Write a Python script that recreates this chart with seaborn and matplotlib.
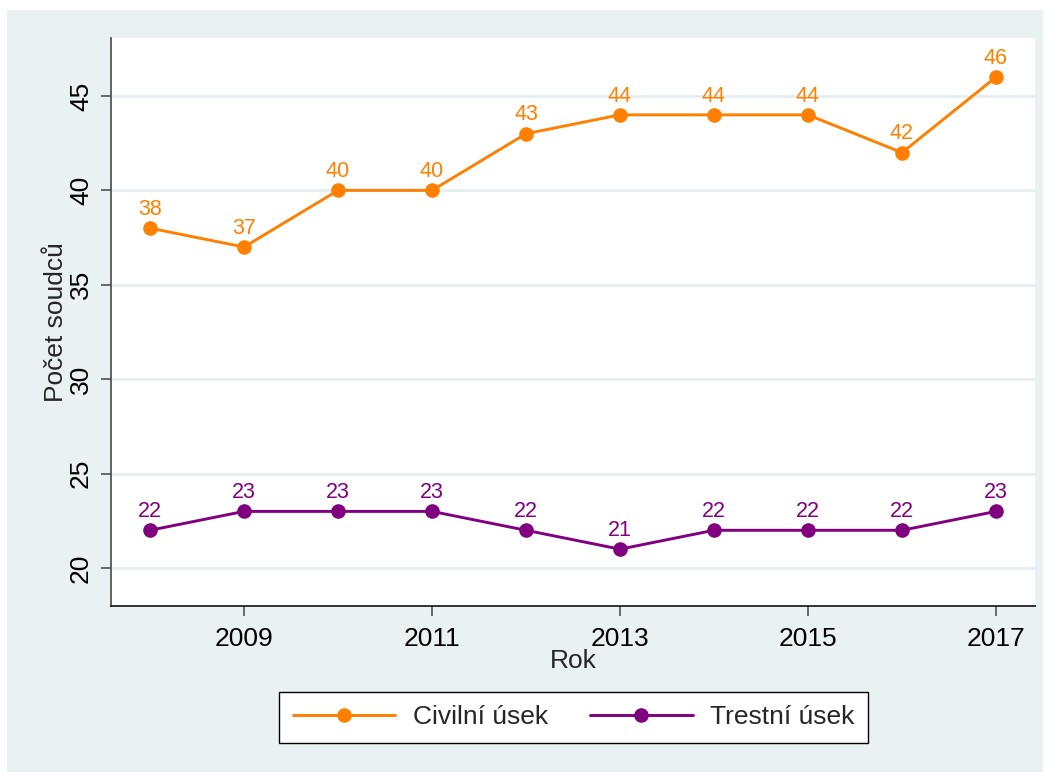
import numpy as np
import pandas as pd
import matplotlib
matplotlib.use("Agg")
import matplotlib.pyplot as plt
from matplotlib.lines import Line2D
from matplotlib.patches import Rectangle
import seaborn as sns

# Data
years = [2008, 2009, 2010, 2011, 2012, 2013, 2014, 2015, 2016, 2017]
civilni = [38, 37, 40, 40, 43, 44, 44, 44, 42, 46]
trestni = [22, 23, 23, 23, 22, 21, 22, 22, 22, 23]
series_names = ["Civilní úsek", "Trestní úsek"]
x_ticks = [2009, 2011, 2013, 2015, 2017]
y_ticks = [20, 25, 30, 35, 40, 45]

colors = {"Civilní úsek": "#FF8000", "Trestní úsek": "#800080"}
bg = "#EAF1F3"

df = pd.DataFrame({
    "Rok": years * 2,
    "Počet soudců": civilni + trestni,
    "Úsek": [series_names[0]] * len(years) + [series_names[1]] * len(years),
})

sns.set_style("white")
plt.rcParams["font.family"] = ["Liberation Sans", "DejaVu Sans"]

fig = plt.figure(figsize=(10.5, 7.72), dpi=100)
fig.patch.set_facecolor("white")
# outer graph region
fig.patches.append(Rectangle((7 / 1050, 0), (1043 - 7) / 1050, 1 - 10 / 772,
                             transform=fig.transFigure, facecolor=bg,
                             edgecolor="none", zorder=-10))

ax = fig.add_axes([111 / 1050, 1 - 606 / 772, (1035 - 111) / 1050, (606 - 38) / 772])
ax.set_facecolor("white")

sns.lineplot(data=df, x="Rok", y="Počet soudců", hue="Úsek", palette=colors,
             marker="o", markersize=10.5, markeredgewidth=0, linewidth=2.1,
             ax=ax, legend=False, zorder=3)

# value labels
for name, vals in zip(series_names, [civilni, trestni]):
    for x, v in zip(years, vals):
        ax.annotate(str(v), (x, v), xytext=(0, 6), textcoords="offset points",
                    ha="center", va="bottom", fontsize=15.5, color=colors[name])

ax.set_xlim(2007.585, 2017.415)
ax.set_ylim(17.99, 48.07)
ax.set_xticks(x_ticks)
ax.set_yticks(y_ticks)
ax.yaxis.grid(True, color="#E6EEF0", linewidth=2)
ax.xaxis.grid(False)
ax.set_axisbelow(True)

for side in ["top", "right"]:
    ax.spines[side].set_visible(False)
ax.spines["left"].set_color("#555555")
ax.spines["bottom"].set_color("#222222")
ax.spines["left"].set_linewidth(1.3)
ax.spines["bottom"].set_linewidth(1.3)

ax.tick_params(axis="both", direction="out", length=7, width=1.1, color="#444444",
               labelsize=19, labelcolor="black", pad=6)
ax.tick_params(axis="x", bottom=True, pad=8)
ax.tick_params(axis="y", left=True)
for lab in ax.get_yticklabels():
    lab.set_rotation(90)
    lab.set_va("center")

ax.set_xlabel("Rok", fontsize=19, labelpad=-1)
ax.set_ylabel("Počet soudců", fontsize=19, labelpad=1)

handles = [Line2D([], [], color=colors[n], marker="o", markersize=10.5,
                  markeredgewidth=0, linewidth=2.1) for n in series_names]
leg = fig.legend(handles, series_names, loc="center",
                 bbox_to_anchor=(573.5 / 1050, 1 - 717.5 / 772), ncol=2,
                 fontsize=19, frameon=True, fancybox=False, handlelength=3.9,
                 handletextpad=0.65, columnspacing=1.6, borderpad=0.5,
                 borderaxespad=0, numpoints=1)
leg.get_frame().set_edgecolor("black")
leg.get_frame().set_linewidth(1.0)
leg.get_frame().set_facecolor("white")
leg.get_frame().set_alpha(1)

fig.savefig("out.png", dpi=100, facecolor=fig.get_facecolor())
